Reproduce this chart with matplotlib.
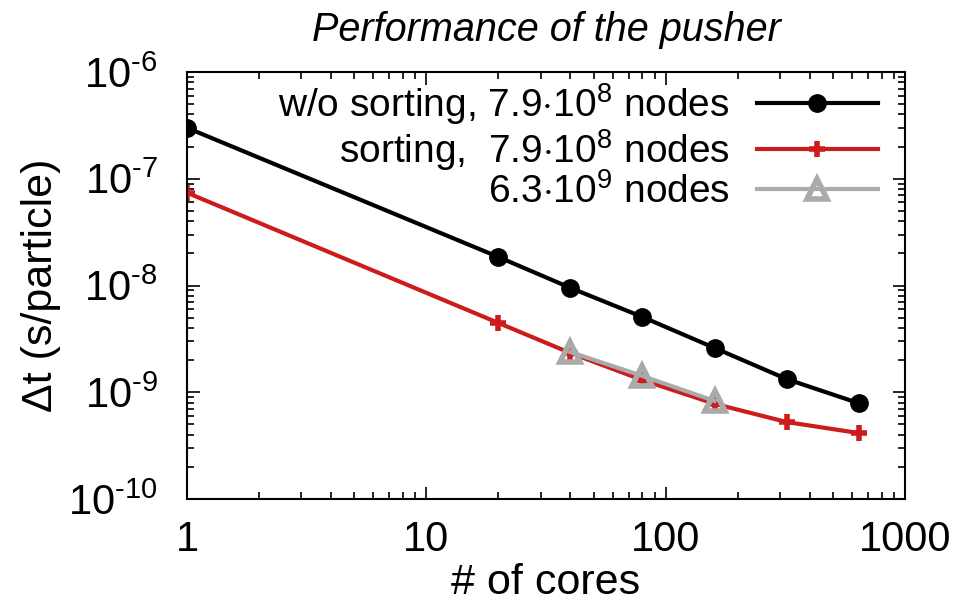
import numpy as np
import matplotlib
matplotlib.use('Agg')
import matplotlib.pyplot as plt
from matplotlib.ticker import LogLocator, FuncFormatter, NullFormatter

# data
cores = [1, 20, 40, 80, 160, 320, 640]
dt_nosort = [3.0e-7, 1.85e-8, 9.5e-9, 5.07e-9, 2.6e-9, 1.33e-9, 7.9e-10]
dt_sort = [7.4e-8, 4.46e-9, 2.33e-9, 1.30e-9, 7.8e-10, 5.26e-10, 4.15e-10]
cores_big = [40, 80, 160]
dt_big = [2.38e-9, 1.42e-9, 8.3e-10]

labels = ['w/o sorting, 7.9$\\cdot$10$^{8}$ nodes',
          'sorting,  7.9$\\cdot$10$^{8}$ nodes',
          '6.3$\\cdot$10$^{9}$ nodes']

plt.rcParams['font.family'] = ['Liberation Sans', 'DejaVu Sans']
plt.rcParams['mathtext.fontset'] = 'custom'
plt.rcParams['mathtext.rm'] = 'Liberation Sans'
plt.rcParams['mathtext.it'] = 'Liberation Sans:italic'
plt.rcParams['font.size'] = 28

fig = plt.figure(figsize=(9.62, 6.04), dpi=100)
ax = fig.add_axes([187/962, 1-499/604, 718/962, 427/604])

red = '#cc1c1c'
grey = '#aaaaaa'
ax.plot(cores, dt_nosort, color='black', lw=3, marker='o', ms=12.5, label=labels[0])
ax.plot(cores, dt_sort, color=red, lw=3, marker='+', ms=12, mew=4, label=labels[1])
ax.plot(cores_big, dt_big, color=grey, lw=3, marker='^', ms=15, mew=4,
        mfc='none', label=labels[2])

ax.set_xscale('log')
ax.set_yscale('log')
ax.set_xlim(1, 1000)
ax.set_ylim(1e-10, 1e-6)

ax.xaxis.set_major_locator(LogLocator(base=10, numticks=10))
ax.yaxis.set_major_locator(LogLocator(base=10, numticks=10))
ax.xaxis.set_minor_locator(LogLocator(base=10, subs=np.arange(2, 10), numticks=20))
ax.yaxis.set_minor_locator(LogLocator(base=10, subs=np.arange(2, 10), numticks=20))
ax.xaxis.set_minor_formatter(NullFormatter())
ax.yaxis.set_minor_formatter(NullFormatter())
ax.xaxis.set_major_formatter(FuncFormatter(lambda v, p: '%d' % round(v)))
ax.yaxis.set_major_formatter(FuncFormatter(
    lambda v, p: '10$^{\\text{-}%d}$' % -round(np.log10(v))))

ax.tick_params(which='both', direction='in', top=True, right=True, width=1.2,
               labelsize=30)
ax.tick_params(axis='x', which='major', length=9, pad=15)
ax.tick_params(axis='y', which='major', length=9, pad=21)
ax.tick_params(which='minor', length=5)
for s in ax.spines.values():
    s.set_linewidth(1.5)

ax.set_xlabel('# of cores', fontsize=31, labelpad=2)
ax.set_ylabel('\u0394t (s/particle)', fontsize=31, labelpad=5)
ax.set_title('Performance of the pusher', style='italic', fontsize=28.5, pad=22)

ax.legend(loc='upper right', bbox_to_anchor=(0.962, 0.978), frameon=False,
          markerfirst=False, handlelength=3.1, handletextpad=0.7,
          labelspacing=0.0, borderpad=0, borderaxespad=0, fontsize=28)

fig.savefig('out.png', dpi=100)
